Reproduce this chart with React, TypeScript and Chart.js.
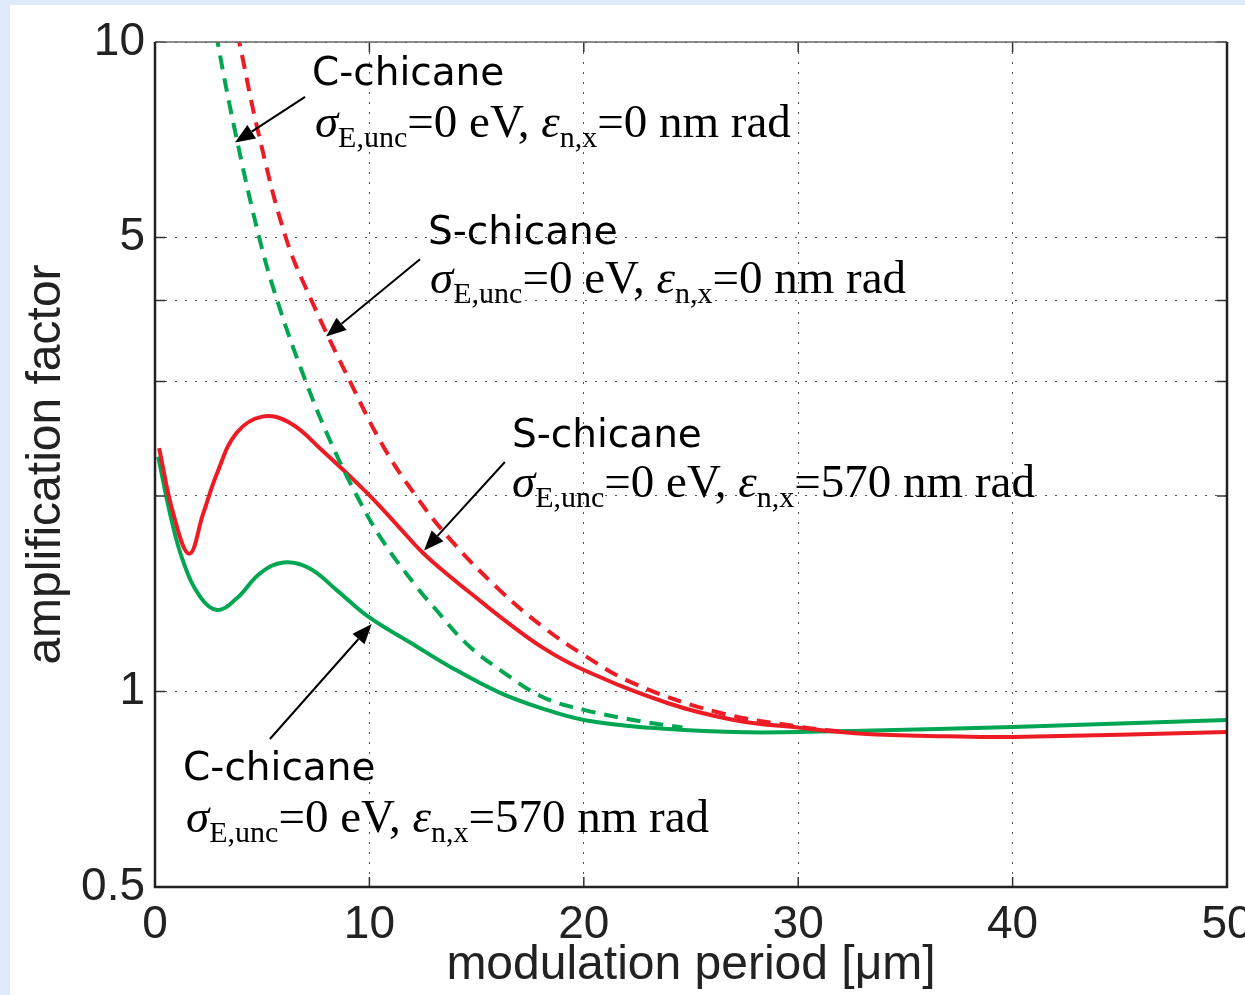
import React, { useEffect, useRef } from "react";
import { Chart, registerables } from "chart.js";
Chart.register(...registerables);

const W = 1245;
const H = 995;

// C-chicane, sigma=0 eV, eps=570 nm rad (green solid)
const cEmitX = [0.15, 0.7, 1.3, 2.1, 2.9, 3.8, 4.9, 6.0, 7.2, 8.5, 10, 11.9, 13.8, 16.1, 18, 20, 23.1, 27, 30, 33, 40, 50];
const cEmitY = [2.30, 1.88, 1.59, 1.40, 1.335, 1.39, 1.52, 1.58, 1.548, 1.43, 1.30, 1.19, 1.09, 0.995, 0.943, 0.904, 0.879, 0.866, 0.866, 0.870, 0.882, 0.904];

// S-chicane, sigma=0 eV, eps=570 nm rad (red solid)
const sEmitX = [0.19, 0.85, 1.6, 2.25, 2.9, 3.8, 5.0, 6.3, 7.8, 9.9, 11.4, 12.5, 13.9, 15.0, 16.1, 18.1, 20, 23.9, 27, 30.1, 33, 37, 40, 50];
const sEmitY = [2.37, 1.88, 1.63, 1.88, 2.17, 2.50, 2.65, 2.59, 2.35, 2.02, 1.788, 1.634, 1.49, 1.393, 1.303, 1.167, 1.079, 0.96, 0.904, 0.879, 0.861, 0.853, 0.851, 0.866];

// S-chicane, sigma=0 eV, eps=0 nm rad (red dashed)
const sZeroX = [3.6, 3.93, 4.8, 6.1, 7.3, 9.1, 10.63, 12.17, 13.8, 16.1, 18.1, 20, 22.3, 26.2, 30.1, 32];
const sZeroY = [11.2, 10, 7.3, 5, 4, 3.0, 2.39, 2.0, 1.71, 1.43, 1.257, 1.138, 1.03, 0.930, 0.882, 0.868];

// C-chicane, sigma=0 eV, eps=0 nm rad (green dashed)
const cZeroX = [2.7, 2.92, 3.73, 4.86, 5.7, 7.0, 8.2, 9.42, 10.6, 12.2, 13.0, 14.5, 16.1, 18.1, 20, 22.3, 24.6];
const cZeroY = [11.2, 10, 7.3, 5, 4, 3.02, 2.42, 2.0, 1.71, 1.449, 1.349, 1.187, 1.079, 0.98, 0.937, 0.904, 0.88];

const xTickValues = [0, 10, 20, 30, 40, 50];
const yTickValues = [0.5, 1, 2, 3, 4, 5, 10];
const yTickLabels = ["0.5", "1", "", "", "", "5", "10"];

// annotations (data units)
const annoNames = ["C-chicane", "S-chicane", "S-chicane", "C-chicane"];
const annoNameX = [7.32, 12.73, 16.65, 1.31];
const annoNameY = [8.59, 4.89, 2.38, 0.731];
const annoEmit = ["0", "0", "570", "570"];
const annoFormX = [7.46, 12.83, 16.65, 1.45];
const annoFormY = [7.14, 4.11, 1.99, 0.608];
const arrowTailX = [7.0, 12.36, 16.32, 5.36];
const arrowTailY = [8.23, 4.63, 2.256, 0.845];
const arrowHeadX = [3.73, 7.98, 12.55, 10.11];
const arrowHeadY = [7.0, 3.52, 1.648, 1.27];

const GREEN = "#00a651";
const RED = "#ed1c24";
const TXT = "#222222";

const zip = (xs: number[], ys: number[]) => xs.map((x, i) => ({ x, y: ys[i] }));

function drawFormula(ctx: CanvasRenderingContext2D, x: number, y: number, emit: string) {
  const main = "47px 'Liberation Serif'";
  const ital = "italic 47px 'Liberation Serif'";
  const sub = "30px 'Liberation Serif'";
  const parts: [string, string, number][] = [
    [ital, "σ", 0],
    [sub, "E,unc", 10],
    [main, "=0 eV, ", 0],
    [ital, "ε", 0],
    [sub, "n,x", 10],
    [main, "=" + emit + " nm rad", 0],
  ];
  let cx = x;
  for (const [f, t, dy] of parts) {
    ctx.font = f;
    ctx.fillText(t, cx, y + dy);
    cx += ctx.measureText(t).width;
  }
}

const bgPlugin = {
  id: "bg",
  beforeDraw(chart: any) {
    const ctx = chart.ctx;
    ctx.save();
    ctx.fillStyle = "#deeafa";
    ctx.fillRect(0, 0, W, H);
    ctx.fillStyle = "#ffffff";
    ctx.fillRect(10, 5, W - 10, H - 5);
    ctx.restore();
  },
};

const framePlugin = {
  id: "frame",
  afterDatasetsDraw(chart: any) {
    const ctx: CanvasRenderingContext2D = chart.ctx;
    const { left, right, top, bottom } = chart.chartArea;
    const xs = chart.scales.x;
    const ys = chart.scales.y;
    ctx.save();
    ctx.strokeStyle = "#333";
    ctx.lineWidth = 1.5;
    ctx.beginPath();
    xTickValues.forEach((v) => {
      const px = xs.getPixelForValue(v);
      ctx.moveTo(px, bottom);
      ctx.lineTo(px, bottom - 10);
      ctx.moveTo(px, top);
      ctx.lineTo(px, top + 10);
    });
    yTickValues.forEach((v) => {
      const py = ys.getPixelForValue(v);
      ctx.moveTo(left, py);
      ctx.lineTo(left + 10, py);
      ctx.moveTo(right, py);
      ctx.lineTo(right - 10, py);
    });
    ctx.stroke();
    ctx.strokeStyle = "#666";
    ctx.lineWidth = 1.5;
    ctx.beginPath();
    ctx.moveTo(left, top);
    ctx.lineTo(right, top);
    ctx.stroke();
    ctx.strokeStyle = "#222";
    ctx.lineWidth = 2.5;
    ctx.beginPath();
    ctx.moveTo(left, top);
    ctx.lineTo(left, bottom);
    ctx.lineTo(right, bottom);
    ctx.lineTo(right, top);
    ctx.stroke();

    ctx.fillStyle = "#000";
    ctx.textAlign = "left";
    ctx.textBaseline = "alphabetic";
    for (let i = 0; i < annoNames.length; i++) {
      ctx.font = "39px 'DejaVu Sans'";
      ctx.fillText(annoNames[i], xs.getPixelForValue(annoNameX[i]), ys.getPixelForValue(annoNameY[i]));
      drawFormula(ctx, xs.getPixelForValue(annoFormX[i]), ys.getPixelForValue(annoFormY[i]), annoEmit[i]);
      const tx = xs.getPixelForValue(arrowTailX[i]);
      const ty = ys.getPixelForValue(arrowTailY[i]);
      const hx = xs.getPixelForValue(arrowHeadX[i]);
      const hy = ys.getPixelForValue(arrowHeadY[i]);
      const ang = Math.atan2(hy - ty, hx - tx);
      const L = 20;
      const hw = 8;
      const bx = hx - L * Math.cos(ang);
      const by = hy - L * Math.sin(ang);
      ctx.strokeStyle = "#000";
      ctx.lineWidth = 2;
      ctx.beginPath();
      ctx.moveTo(tx, ty);
      ctx.lineTo(bx, by);
      ctx.stroke();
      ctx.beginPath();
      ctx.moveTo(hx, hy);
      ctx.lineTo(bx + hw * Math.sin(ang), by - hw * Math.cos(ang));
      ctx.lineTo(bx - hw * Math.sin(ang), by + hw * Math.cos(ang));
      ctx.closePath();
      ctx.fill();
    }
    ctx.restore();
  },
};

export default function App() {
  const ref = useRef<HTMLCanvasElement>(null);
  useEffect(() => {
    if (!ref.current) return;
    const lineDs = (label: string, data: any[], color: string, dashed: boolean) => ({
      label,
      data,
      borderColor: color,
      backgroundColor: color,
      borderWidth: 4,
      borderDash: dashed ? [14, 9] : [],
      borderCapStyle: "butt" as const,
      pointRadius: 0,
      tension: 0.4,
      fill: false,
    });
    const chart = new Chart(ref.current, {
      type: "line",
      data: {
        datasets: [
          lineDs("C-chicane 0", zip(cZeroX, cZeroY), GREEN, true),
          lineDs("S-chicane 0", zip(sZeroX, sZeroY), RED, true),
          lineDs("S-chicane 570", zip(sEmitX, sEmitY), RED, false),
          lineDs("C-chicane 570", zip(cEmitX, cEmitY), GREEN, false),
        ],
      },
      options: {
        responsive: false,
        animation: false,
        layout: { padding: { top: 42, right: 18, left: 0, bottom: 0 }, autoPadding: false } as any,
        plugins: { legend: { display: false }, tooltip: { enabled: false } },
        scales: {
          x: {
            type: "linear",
            min: 0,
            max: 50,
            afterBuildTicks: (s: any) => {
              s.ticks = xTickValues.map((v) => ({ value: v }));
            },
            ticks: {
              font: { family: "'Liberation Sans'", size: 46 },
              color: TXT,
              padding: 11,
              maxRotation: 0,
              autoSkip: false,
              callback: (v: any) => String(v),
            },
            grid: { color: "#555", lineWidth: 1, drawTicks: false },
            border: { display: false, dash: [2, 8] },
            title: {
              display: true,
              text: "modulation period [μm]",
              font: { family: "'Liberation Sans'", size: 48 },
              color: TXT,
              padding: { top: 0, bottom: 0 },
            },
            afterFit: (s: any) => {
              s.height = 108;
              s.paddingLeft = 0;
              s.paddingRight = 0;
            },
          },
          y: {
            type: "logarithmic",
            min: 0.5,
            max: 10,
            afterBuildTicks: (s: any) => {
              s.ticks = yTickValues.map((v) => ({ value: v }));
            },
            ticks: {
              font: { family: "'Liberation Sans'", size: 46 },
              color: TXT,
              padding: 10,
              autoSkip: false,
              callback: (v: any) => {
                const i = yTickValues.indexOf(Number(v));
                return i >= 0 ? yTickLabels[i] : "";
              },
            },
            grid: { color: "#555", lineWidth: 1, drawTicks: false },
            border: { display: false, dash: [2, 8] },
            title: {
              display: true,
              text: "amplification factor",
              font: { family: "'Liberation Sans'", size: 48 },
              color: TXT,
              padding: { top: 18, bottom: 0 },
            },
            afterFit: (s: any) => {
              s.width = 155;
              s.paddingTop = 0;
              s.paddingBottom = 0;
            },
          },
        },
      },
      plugins: [bgPlugin, framePlugin],
    } as any);
    return () => chart.destroy();
  }, []);
  return (
    <div style={{ position: "absolute", left: 0, top: 0, width: W, height: H, overflow: "hidden" }}>
      <canvas ref={ref} width={W} height={H} style={{ display: "block", width: W, height: H }} />
    </div>
  );
}
